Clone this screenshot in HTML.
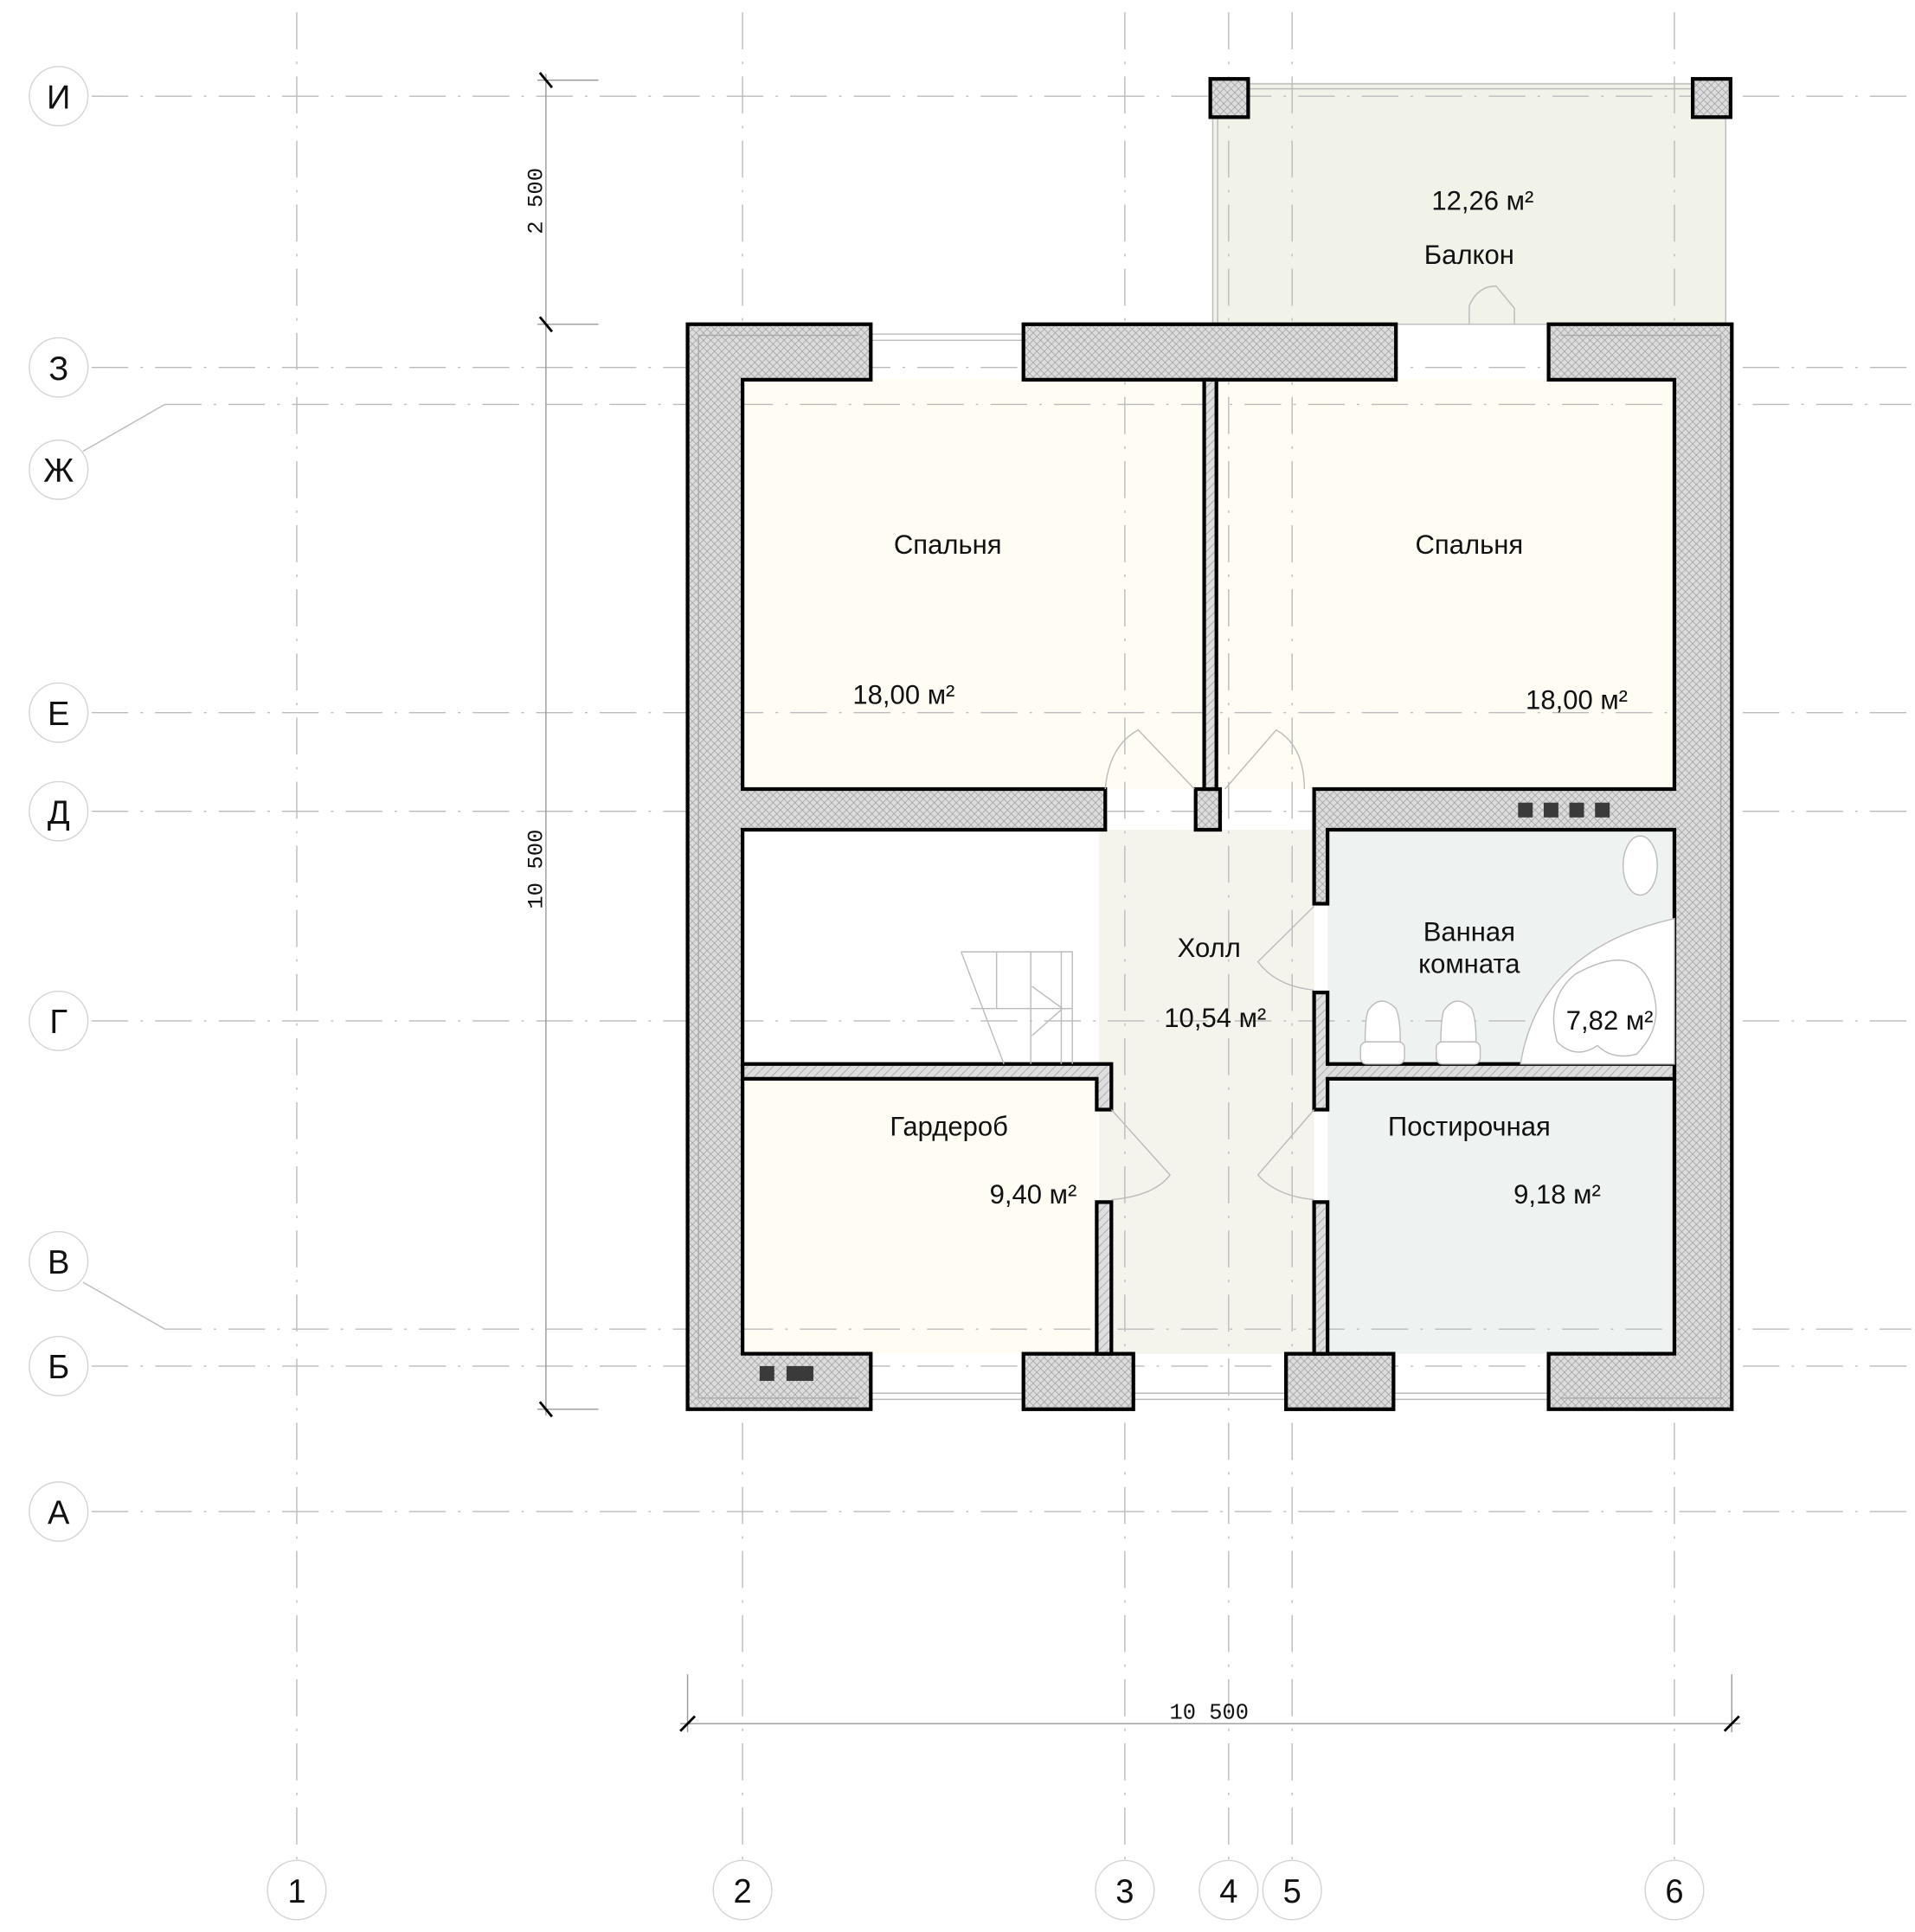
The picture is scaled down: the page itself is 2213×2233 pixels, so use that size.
<!DOCTYPE html>
<html><head><meta charset="utf-8"><style>
html,body{margin:0;padding:0;background:#fff}
svg{display:block}
text{font-family:"Liberation Sans",sans-serif;fill:#111}
</style></head><body>
<svg width="2213" height="2233" viewBox="0 0 1568 1567" preserveAspectRatio="none" xmlns="http://www.w3.org/2000/svg">
<defs>
<pattern id="h" width="6" height="6" patternUnits="userSpaceOnUse">
<rect width="6" height="6" fill="#dcdcdc"/>
<path d="M0 0L6 6M6 0L0 6" stroke="#9a9a9a" stroke-width="0.5"/>
</pattern>
<pattern id="d" width="7" height="7" patternUnits="userSpaceOnUse">
<rect width="7" height="7" fill="#dedede"/>
<path d="M0 7L7 0" stroke="#999" stroke-width="0.5"/>
</pattern>
</defs>

<rect x="993" y="67" width="420" height="196" fill="#f1f2e8"/>
<rect x="608" y="308" width="380" height="332" fill="#fffdf3"/>
<rect x="996" y="308" width="375" height="332" fill="#fffdf3"/>
<rect x="900" y="673" width="176" height="425" fill="#f4f4ec"/>
<rect x="1087" y="673" width="284" height="190" fill="#eef3f1"/>
<rect x="1087" y="875" width="284" height="223" fill="#eef3f1"/>
<rect x="608" y="875" width="290" height="223" fill="#fffdf3"/>

<g stroke="#bbb" stroke-width="1" stroke-dasharray="30 10 2 10" fill="none">
<line x1="243" y1="10" x2="243" y2="1508"/>
<line x1="608" y1="10" x2="608" y2="1508"/>
<line x1="921" y1="10" x2="921" y2="1508"/>
<line x1="1006" y1="10" x2="1006" y2="1508"/>
<line x1="1058" y1="10" x2="1058" y2="1508"/>
<line x1="1371" y1="10" x2="1371" y2="1508"/>
<line x1="75" y1="78" x2="1565" y2="78"/>
<line x1="75" y1="298" x2="1565" y2="298"/>
<line x1="135" y1="328" x2="1565" y2="328"/>
<line x1="75" y1="578" x2="1565" y2="578"/>
<line x1="75" y1="658" x2="1565" y2="658"/>
<line x1="75" y1="828" x2="1565" y2="828"/>
<line x1="135" y1="1078" x2="1565" y2="1078"/>
<line x1="75" y1="1108" x2="1565" y2="1108"/>
<line x1="75" y1="1226" x2="1565" y2="1226"/>
</g>
<g stroke="#bbb" stroke-width="1"><line x1="68" y1="366" x2="135" y2="328"/><line x1="68" y1="1040" x2="135" y2="1078"/></g>

<g fill="#fff" stroke="#d4d4d4" stroke-width="1">
<circle cx="48" cy="78" r="24"/><circle cx="48" cy="298" r="24"/><circle cx="48" cy="381" r="24"/>
<circle cx="48" cy="578" r="24"/><circle cx="48" cy="658" r="24"/><circle cx="48" cy="828" r="24"/>
<circle cx="48" cy="1023" r="24"/><circle cx="48" cy="1108" r="24"/><circle cx="48" cy="1226" r="24"/>
<circle cx="243" cy="1533" r="24"/><circle cx="608" cy="1533" r="24"/><circle cx="921" cy="1533" r="24"/>
<circle cx="1006" cy="1533" r="24"/><circle cx="1058" cy="1533" r="24"/><circle cx="1371" cy="1533" r="24"/>
</g>
<g font-size="27" text-anchor="middle">
<text x="48" y="88">И</text><text x="48" y="308">З</text><text x="48" y="391">Ж</text>
<text x="48" y="588">Е</text><text x="48" y="668">Д</text><text x="48" y="838">Г</text>
<text x="48" y="1033">В</text><text x="48" y="1118">Б</text><text x="48" y="1236">А</text>
<text x="243" y="1543">1</text><text x="608" y="1543">2</text><text x="921" y="1543">3</text>
<text x="1006" y="1543">4</text><text x="1058" y="1543">5</text><text x="1371" y="1543">6</text>
</g>

<g stroke="#999" stroke-width="1">
<line x1="447" y1="60" x2="447" y2="1148"/>
<line x1="440" y1="65" x2="490" y2="65"/><line x1="440" y1="263" x2="490" y2="263"/><line x1="440" y1="1143" x2="490" y2="1143"/>
<line x1="557" y1="1398" x2="1425" y2="1398"/>
<line x1="563" y1="1358" x2="563" y2="1405"/><line x1="1418" y1="1358" x2="1418" y2="1405"/>
</g>
<g stroke="#000" stroke-width="2">
<line x1="442" y1="59" x2="452" y2="71"/><line x1="442" y1="257" x2="452" y2="269"/><line x1="442" y1="1137" x2="452" y2="1149"/>
<line x1="557" y1="1404" x2="569" y2="1392"/><line x1="1412" y1="1404" x2="1424" y2="1392"/>
</g>
<g font-size="18" text-anchor="middle" fill="#222">
<text transform="translate(444,163) rotate(-90)" style="font-family:'Liberation Mono',monospace">2 500</text>
<text transform="translate(444,705) rotate(-90)" style="font-family:'Liberation Mono',monospace">10 500</text>
<text x="990" y="1394" style="font-family:'Liberation Mono',monospace">10 500</text>
</g>

<g stroke="#bbb" stroke-width="1" fill="none">
<line x1="713" y1="271" x2="838" y2="271"/><line x1="713" y1="276" x2="838" y2="276"/>
<line x1="713" y1="1130" x2="838" y2="1130"/><line x1="713" y1="1135" x2="838" y2="1135"/>
<line x1="928" y1="1130" x2="1053" y2="1130"/><line x1="928" y1="1135" x2="1053" y2="1135"/>
<line x1="1141" y1="1130" x2="1268" y2="1130"/><line x1="1141" y1="1135" x2="1268" y2="1135"/>
<line x1="1143" y1="263" x2="1268" y2="263"/>
<line x1="993" y1="95" x2="993" y2="263"/><line x1="997" y1="95" x2="997" y2="263"/>
<line x1="1413" y1="95" x2="1413" y2="263"/>
<line x1="1022" y1="68" x2="1386" y2="68"/><line x1="1022" y1="72" x2="1386" y2="72"/>
</g>

<g stroke="#000" stroke-width="3" fill="url(#h)" stroke-linejoin="miter">
<path d="M713 308V263H563V1143H713V1098H608V673H905V640H608V308Z"/>
<path d="M1268 308V263H1418V1143H1268V1098H1371V673H1087V733H1076V640H1371V308Z"/>
<rect x="838" y="263" width="305" height="45"/>
<rect x="838" y="1098" width="90" height="45"/>
<rect x="1053" y="1098" width="88" height="45"/>
<rect x="979" y="640" width="20" height="33"/>
<rect x="991" y="64" width="31" height="31"/>
<rect x="1386" y="64" width="31" height="31"/>
</g>
<g stroke="#aaa" stroke-width="1" fill="none">
<path d="M703 272H572V1134H703"/><path d="M1278 272H1409V1134H1278"/>
</g>
<g stroke="#000" stroke-width="3" fill="url(#d)">
<rect x="986" y="308" width="10" height="332"/>
<path d="M608 863H910V900H898V875H608Z"/>
<rect x="898" y="975" width="12" height="123"/>
<path d="M1076 805H1087V863H1371V875H1087V900H1076Z"/>
<rect x="1076" y="975" width="11" height="123"/>
</g>

<g fill="#3a3a3a">
<rect x="1243" y="651" width="12" height="12"/><rect x="1264" y="651" width="12" height="12"/>
<rect x="1285" y="651" width="12" height="12"/><rect x="1306" y="651" width="12" height="12"/>
<rect x="622" y="1108" width="12" height="12"/><rect x="644" y="1108" width="22" height="12"/>
</g>

<g stroke="#bbb" stroke-width="1" fill="none">
<path d="M905 640Q908 605 932 592L978 640"/>
<path d="M1068 640Q1068 605 1045 592L1003 640"/>
<path d="M1076 735L1030 780Q1045 800 1076 803"/>
<path d="M910 900L958 953Q945 970 910 973"/>
<path d="M1076 900L1030 953Q1045 970 1076 973"/>
<path d="M1203 263V248Q1210 232 1225 232L1240 250V263"/>
<path d="M787 772H878V863"/>
<path d="M816 772V818M844 772V863M869 772V863M795 818H878M845 800L870 818L845 840M787 772L822 863"/>
<ellipse cx="1343" cy="702" rx="14" ry="24" fill="#fff"/>
<path d="M1371 745Q1260 770 1245 863H1371Z" fill="#fff"/>
<path d="M1290 790Q1345 760 1355 810Q1360 835 1340 855Q1320 860 1308 848Q1290 860 1275 845Q1265 810 1290 790Z"/>
<path d="M1118 858Q1117 830 1120 820Q1130 805 1143 818Q1148 830 1146 858Z" fill="#fff"/>
<path d="M1180 858Q1179 830 1182 820Q1192 805 1205 818Q1210 830 1208 858Z" fill="#fff"/>
<rect x="1114" y="845" width="36" height="18" rx="5" fill="#fff"/>
<rect x="1176" y="845" width="36" height="18" rx="5" fill="#fff"/>
</g>

<g font-size="22" text-anchor="middle">
<text x="1214" y="170">12,26 м²</text>
<text x="1203" y="214">Балкон</text>
<text x="776" y="449">Спальня</text>
<text x="740" y="571">18,00 м²</text>
<text x="1203" y="449">Спальня</text>
<text x="1291" y="575">18,00 м²</text>
<text x="990" y="776">Холл</text>
<text x="995" y="833">10,54 м²</text>
<text x="1203" y="763">Ванная</text>
<text x="1203" y="789">комната</text>
<text x="1318" y="835">7,82 м²</text>
<text x="777" y="921">Гардероб</text>
<text x="846" y="976">9,40 м²</text>
<text x="1203" y="921">Постирочная</text>
<text x="1275" y="976">9,18 м²</text>
</g>
</svg>
</body></html>
